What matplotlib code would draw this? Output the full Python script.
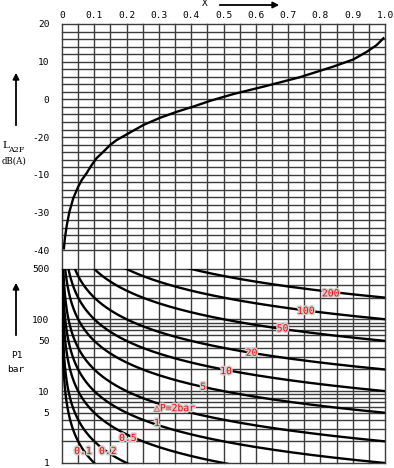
import numpy as np
import matplotlib.pyplot as plt
import matplotlib.patheffects as pe

# upper curve: L_A2F in dB(A) against X
x_noise = [0.006, 0.009, 0.015, 0.023, 0.035, 0.05, 0.061, 0.076, 0.092, 0.107,
           0.128, 0.149, 0.169, 0.2, 0.252, 0.303, 0.355, 0.407, 0.458, 0.53,
           0.634, 0.737, 0.84, 0.902, 0.943, 0.974, 0.995]
l_a2f = [-39.5, -36.8, -33.3, -29.8, -26.2, -23.2, -21.4, -19.6, -17.4, -15.6,
         -13.9, -12.1, -10.8, -9.3, -6.8, -4.9, -3.3, -1.9, -0.4, 1.4,
         3.6, 5.9, 8.7, 10.6, 12.6, 14.4, 16.2]

# lower curves: one per pressure drop, X = dP / P1
dp_values = [0.1, 0.2, 0.5, 1, 2, 5, 10, 20, 50, 100, 200]
dp_labels = ['0.1', '0.2', '0.5', '1', '△P=2bar', '5', '10', '20', '50', '100', '200']
label_x = [0.065, 0.142, 0.204, 0.294, 0.285, 0.437, 0.508, 0.587, 0.683, 0.755, 0.832]
label_p1 = [1.47, 1.47, 2.23, 3.6, 5.8, 11.5, 19.0, 34.2, 74.7, 131, 229]

x_ticks = [0, 0.1, 0.2, 0.3, 0.4, 0.5, 0.6, 0.7, 0.8, 0.9, 1.0]
x_ticklabels = ['0', '0.1', '0.2', '0.3', '0.4', '0.5', '0.6', '0.7', '0.8', '0.9', '1.0']
db_ticks = [20, 10, 0, -10, -20, -30, -40]
db_ticklabels = ['20', '10', '0', '-20', '-10', '-30', '-40']
p1_ticks = [1, 5, 10, 50, 100, 500]
p1_ticklabels = ['1', '5', '10', '50', '100', '500']

W, H = 394, 468
FONT = 'DejaVu Sans Mono'
GRID = '#3c3c3c'

fig = plt.figure(figsize=(W / 100, H / 100), dpi=100)


def px_rect(left, top, right, bottom):
    return [left / W, 1 - bottom / H, (right - left) / W, (bottom - top) / H]


ax_top = fig.add_axes(px_rect(62, 24, 385, 269))
ax_bot = fig.add_axes(px_rect(62, 269, 385, 463))

for ax in (ax_top, ax_bot):
    ax.set_xlim(0, 1)
    for s in ax.spines.values():
        s.set_visible(False)
    for xv in np.arange(0, 1.0001, 0.05):
        ax.axvline(xv, color=GRID, lw=1.0, zorder=1, clip_on=False)
    ax.tick_params(length=0, labelsize=6.8, pad=9)

# top panel
ax_top.set_ylim(-45, 20)
for yv in np.arange(-40, 20.01, 2):
    ax_top.axhline(yv, color=GRID, lw=1.0, zorder=1, clip_on=False)
ax_top.plot(x_noise, l_a2f, color='black', lw=1.7, zorder=3)
ax_top.set_yticks(db_ticks)
ax_top.set_yticklabels(db_ticklabels, family=FONT, fontsize=6.8)
ax_top.xaxis.tick_top()
ax_top.set_xticks(x_ticks)
ax_top.set_xticklabels(x_ticklabels, family=FONT, fontsize=6.8)
ax_top.tick_params(axis='x', pad=3)

# bottom panel
ax_bot.set_yscale('log')
ax_bot.set_ylim(1, 500)
for dec in [1, 10, 100]:
    for m in range(1, 10):
        v = dec * m
        if v <= 500:
            ax_bot.axhline(v, color=GRID, lw=1.0, zorder=1, clip_on=False)
xs = np.linspace(0.0002, 1.0, 2000)
for dp in dp_values:
    ax_bot.plot(xs, dp / xs, color='black', lw=1.7, zorder=3)
ax_bot.set_yticks(p1_ticks)
ax_bot.set_yticklabels(p1_ticklabels, family=FONT, fontsize=6.8)
ax_bot.yaxis.set_minor_formatter(plt.NullFormatter())
ax_bot.tick_params(which='minor', length=0)
ax_bot.set_xticks([])

halo = [pe.withStroke(linewidth=2.2, foreground='#cfcfcf')]
for lab, lx, ly in zip(dp_labels, label_x, label_p1):
    ha = 'left' if lab.startswith('△') else 'center'
    ax_bot.text(lx, ly, lab, color='red', fontsize=7, family=FONT,
                ha=ha, va='center', zorder=5, path_effects=halo)


# axis captions and arrows on the left
def fpt(x, y):
    return (x / W, 1 - y / H)


arrow = dict(arrowstyle='-|>', color='black', lw=1.3, mutation_scale=9)
ax_top.annotate('', xy=fpt(16, 70), xytext=fpt(16, 128), xycoords='figure fraction',
                textcoords='figure fraction', arrowprops=arrow, annotation_clip=False)
ax_bot.annotate('', xy=fpt(16, 280), xytext=fpt(16, 338), xycoords='figure fraction',
                textcoords='figure fraction', arrowprops=arrow, annotation_clip=False)
ax_top.annotate('', xy=fpt(282, 5), xytext=fpt(217, 5), xycoords='figure fraction',
                textcoords='figure fraction', arrowprops=arrow, annotation_clip=False)

fig.text(*fpt(205, 4), 'X', family=FONT, fontsize=6.8, ha='center', va='center')
fig.text(*fpt(2, 146), 'L', family='DejaVu Serif', fontsize=7.5, ha='left', va='center')
fig.text(*fpt(8, 150), 'A2F', family='DejaVu Serif', fontsize=5.8, ha='left', va='center')
fig.text(*fpt(14, 161), 'dB(A)', family='DejaVu Serif', fontsize=6.2, ha='center', va='center')
fig.text(*fpt(17, 356), 'P1', family=FONT, fontsize=6.8, ha='center', va='center')
fig.text(*fpt(16, 369), 'bar', family=FONT, fontsize=6.8, ha='center', va='center')

fig.savefig('out.png', dpi=100)
